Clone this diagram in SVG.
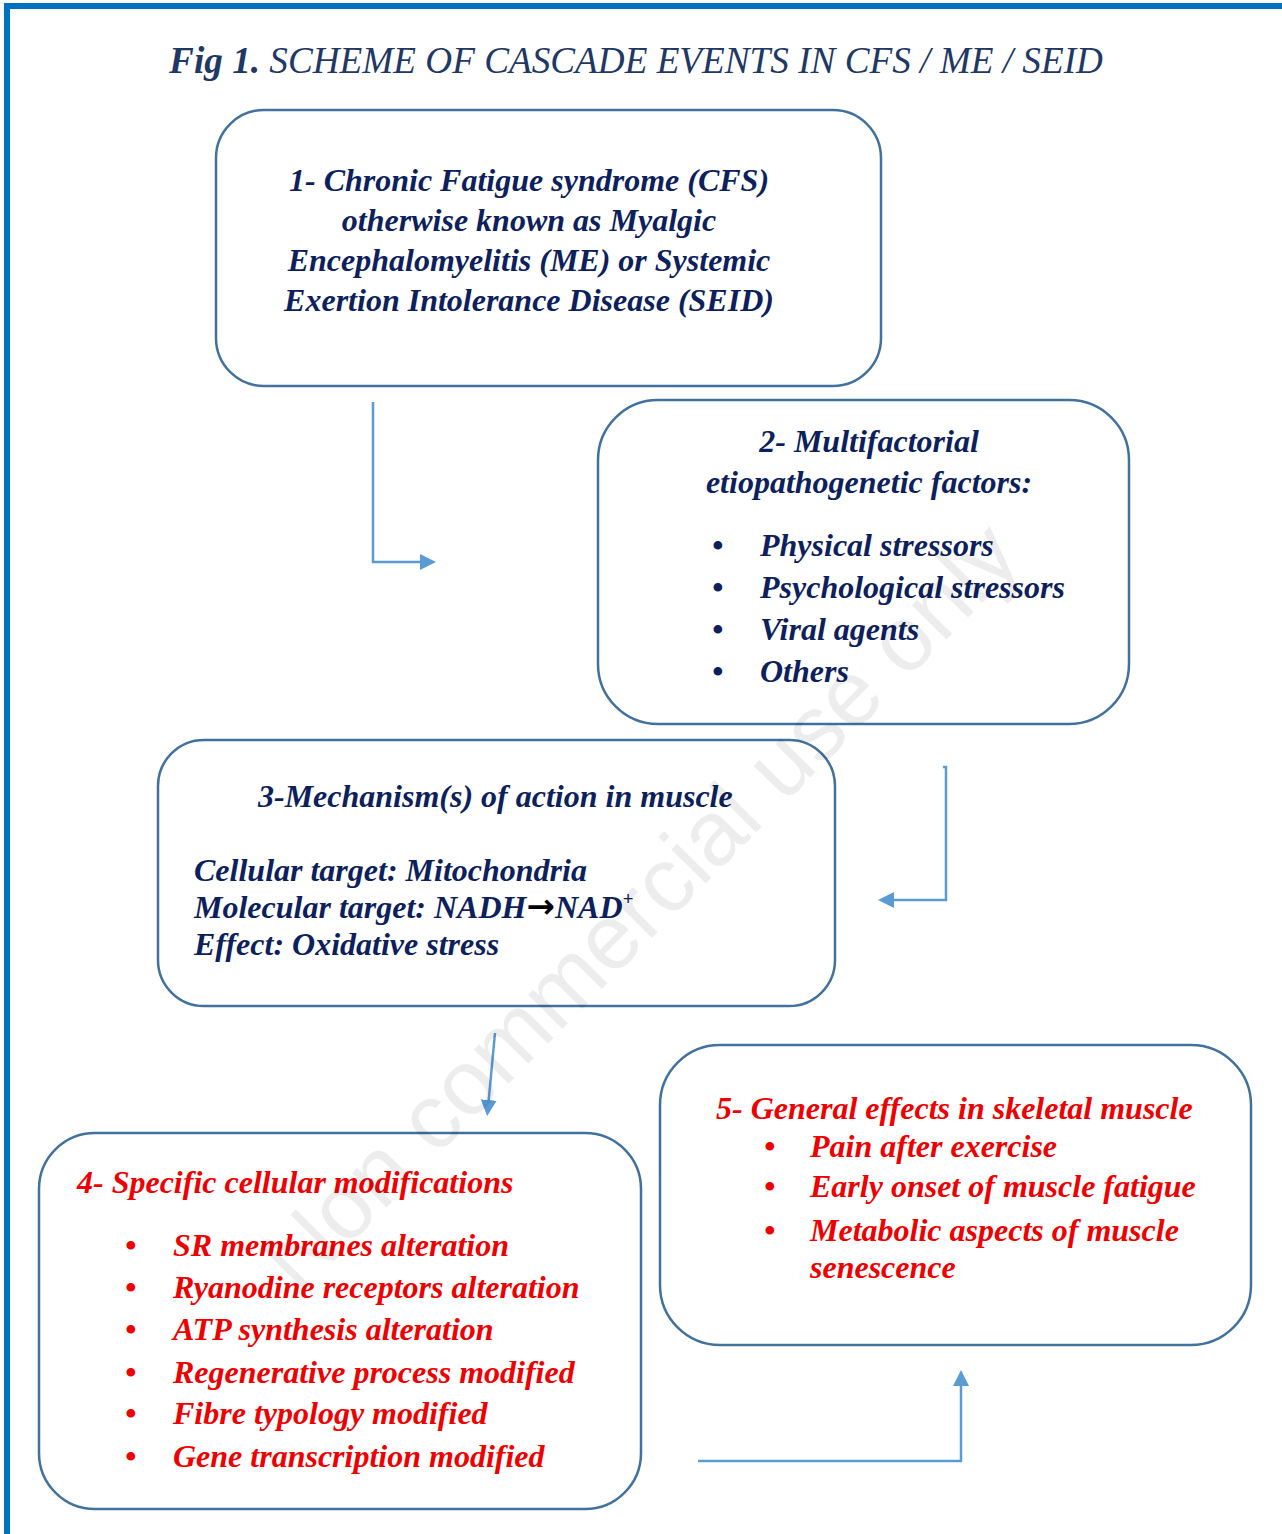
<svg xmlns="http://www.w3.org/2000/svg" width="1282" height="1534" viewBox="0 0 1282 1534">
<style>
.box{fill:#fff;stroke:#41719c;stroke-width:2.5}
.t{font-family:'Liberation Serif',serif;font-style:italic;font-weight:bold;font-size:32px;fill:#0d1f5c}
.r{fill:#ee0000}
.c{text-anchor:middle}
.con{fill:none;stroke:#5b9bd5;stroke-width:2.5}
.wm{font-family:'Liberation Sans',sans-serif;font-size:92px;fill:#000;fill-opacity:0.07}
</style>
<defs>
<marker id="ah2" markerWidth="16" markerHeight="16" refX="2" refY="8" orient="auto" markerUnits="userSpaceOnUse" viewBox="0 0 16 16">
<path d="M0,0 L16,8 L0,16 z" fill="#5b9bd5"/>
</marker>
</defs>
<rect x="0" y="0" width="1282" height="1534" fill="#fff"/>
<rect x="4" y="3" width="1278" height="6" fill="#0070c0"/>
<rect x="4" y="3" width="6" height="1531" fill="#0070c0"/>
<text x="636" y="73" text-anchor="middle" style="font-family:'Liberation Serif',serif;font-style:italic;font-size:37.2px" fill="#1f3864"><tspan font-weight="bold">Fig 1.</tspan> SCHEME OF CASCADE EVENTS IN CFS / ME / SEID</text>
<g id="connectors">
<path class="con" d="M373,402 V562 H422" marker-end="url(#ah2)"/>
<path class="con" d="M943,767 H946 V900 H892" marker-end="url(#ah2)"/>
<path class="con" d="M495,1033 L488.5,1102" marker-end="url(#ah2)"/>
<path class="con" d="M698,1461 H961 V1384" marker-end="url(#ah2)"/>
</g>
<g id="node1">
<rect class="box" x="216" y="110" width="665" height="276" rx="48"/>
<text class="t c" x="529" y="191">1- Chronic Fatigue syndrome (CFS)</text>
<text class="t c" x="529" y="231">otherwise known as Myalgic</text>
<text class="t c" x="529" y="271">Encephalomyelitis (ME) or Systemic</text>
<text class="t c" x="529" y="311">Exertion Intolerance Disease (SEID)</text>
</g>
<g id="node2">
<rect class="box" x="598" y="400" width="531" height="324" rx="60"/>
<text class="t c" x="869" y="452">2- Multifactorial</text>
<text class="t c" x="869" y="493">etiopathogenetic factors:</text>
<text class="t" x="712" y="556">•</text><text class="t" x="760" y="556">Physical stressors</text>
<text class="t" x="712" y="598">•</text><text class="t" x="760" y="598">Psychological stressors</text>
<text class="t" x="712" y="640">•</text><text class="t" x="760" y="640">Viral agents</text>
<text class="t" x="712" y="682">•</text><text class="t" x="760" y="682">Others</text>
</g>
<g id="node3">
<rect class="box" x="158" y="740" width="677" height="266" rx="46"/>
<text class="t" x="258" y="807">3-Mechanism(s) of action in muscle</text>
<text class="t" x="194" y="881">Cellular target: Mitochondria</text>
<text class="t" x="194" y="918">Molecular target: NADH<tspan style="font-family:'DejaVu Sans',sans-serif;font-style:normal;font-weight:bold;font-size:34px" fill="#000">→</tspan>NAD<tspan font-size="19" dy="-13">+</tspan></text>
<text class="t" x="194" y="955">Effect: Oxidative stress</text>
</g>
<g id="node4">
<rect class="box" x="39" y="1133" width="602" height="376" rx="56"/>
<text class="t r" x="77" y="1193">4- Specific cellular modifications</text>
<text class="t r" x="125" y="1256">•</text><text class="t r" x="173" y="1256">SR membranes alteration</text>
<text class="t r" x="125" y="1298">•</text><text class="t r" x="173" y="1298">Ryanodine receptors alteration</text>
<text class="t r" x="125" y="1340">•</text><text class="t r" x="173" y="1340">ATP synthesis alteration</text>
<text class="t r" x="125" y="1383">•</text><text class="t r" x="173" y="1383">Regenerative process modified</text>
<text class="t r" x="125" y="1424">•</text><text class="t r" x="173" y="1424">Fibre typology modified</text>
<text class="t r" x="125" y="1467">•</text><text class="t r" x="173" y="1467">Gene transcription modified</text>
</g>
<g id="node5">
<rect class="box" x="660" y="1045" width="591" height="300" rx="60"/>
<text class="t r" x="716" y="1119">5- General effects in skeletal muscle</text>
<text class="t r" x="764" y="1157">•</text><text class="t r" x="810" y="1157">Pain after exercise</text>
<text class="t r" x="764" y="1197">•</text><text class="t r" x="810" y="1197">Early onset of muscle fatigue</text>
<text class="t r" x="764" y="1241">•</text><text class="t r" x="810" y="1241">Metabolic aspects of muscle</text>
<text class="t r" x="810" y="1278">senescence</text>
</g>
<text class="wm" transform="translate(662,928) rotate(-45.4)" text-anchor="middle">Non commercial use only</text>
</svg>
